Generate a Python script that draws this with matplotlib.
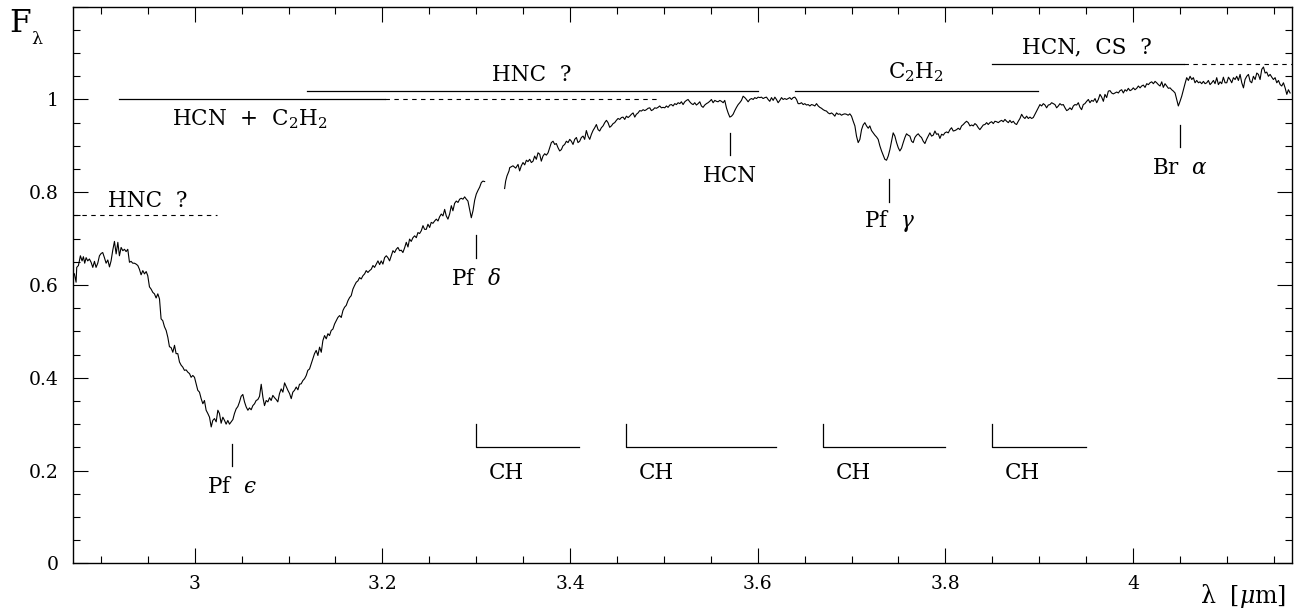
import matplotlib
matplotlib.use("Agg")
import matplotlib.pyplot as plt
from matplotlib.ticker import MultipleLocator, FuncFormatter

plt.rcParams["font.family"] = ["DejaVu Serif"]
plt.rcParams["mathtext.fontset"] = "dejavuserif"

# spectrum, blue part (before the gap near 3.32 um)
wave_blue = [
    2.8700, 2.8718, 2.8736, 2.8743, 2.8761, 2.8782, 2.8800, 2.8814, 2.8828, 2.8843,
    2.8860, 2.8878, 2.8896, 2.8914, 2.8932, 2.8949, 2.8967, 2.8985, 2.9003, 2.9020,
    2.9038, 2.9056, 2.9074, 2.9092, 2.9109, 2.9127, 2.9145, 2.9163, 2.9181, 2.9198,
    2.9216, 2.9234, 2.9252, 2.9269, 2.9287, 2.9305, 2.9322, 2.9340, 2.9358, 2.9376,
    2.9394, 2.9411, 2.9429, 2.9447, 2.9465, 2.9483, 2.9500, 2.9518, 2.9536, 2.9554,
    2.9571, 2.9589, 2.9607, 2.9625, 2.9642, 2.9660, 2.9678, 2.9696, 2.9714, 2.9731,
    2.9749, 2.9767, 2.9785, 2.9802, 2.9820, 2.9838, 2.9856, 2.9873, 2.9891, 2.9909,
    2.9927, 2.9945, 2.9962, 2.9980, 2.9998, 3.0016, 3.0033, 3.0051, 3.0069, 3.0087,
    3.0104, 3.0122, 3.0140, 3.0158, 3.0176, 3.0193, 3.0211, 3.0229, 3.0247, 3.0264,
    3.0282, 3.0300, 3.0318, 3.0335, 3.0353, 3.0371, 3.0389, 3.0407, 3.0424, 3.0442,
    3.0460, 3.0478, 3.0495, 3.0513, 3.0531, 3.0549, 3.0567, 3.0584, 3.0602, 3.0620,
    3.0638, 3.0655, 3.0673, 3.0691, 3.0709, 3.0727, 3.0744, 3.0762, 3.0780, 3.0798,
    3.0815, 3.0833, 3.0851, 3.0869, 3.0886, 3.0904, 3.0922, 3.0940, 3.0958, 3.0975,
    3.0993, 3.1011, 3.1029, 3.1046, 3.1064, 3.1082, 3.1100, 3.1117, 3.1135, 3.1153,
    3.1171, 3.1189, 3.1206, 3.1224, 3.1242, 3.1260, 3.1277, 3.1295, 3.1313, 3.1331,
    3.1349, 3.1366, 3.1384, 3.1402, 3.1420, 3.1437, 3.1455, 3.1473, 3.1491, 3.1509,
    3.1526, 3.1544, 3.1562, 3.1580, 3.1597, 3.1615, 3.1633, 3.1651, 3.1668, 3.1686,
    3.1704, 3.1722, 3.1740, 3.1757, 3.1775, 3.1793, 3.1811, 3.1828, 3.1846, 3.1864,
    3.1882, 3.1900, 3.1917, 3.1935, 3.1953, 3.1971, 3.1988, 3.2006, 3.2024, 3.2042,
    3.2059, 3.2077, 3.2095, 3.2113, 3.2131, 3.2148, 3.2166, 3.2184, 3.2202, 3.2219,
    3.2237, 3.2255, 3.2273, 3.2290, 3.2308, 3.2326, 3.2344, 3.2362, 3.2379, 3.2397,
    3.2415, 3.2433, 3.2450, 3.2468, 3.2486, 3.2504, 3.2521, 3.2539, 3.2557, 3.2575,
    3.2593, 3.2610, 3.2628, 3.2646, 3.2664, 3.2681, 3.2699, 3.2717, 3.2735, 3.2752,
    3.2770, 3.2788, 3.2806, 3.2824, 3.2841, 3.2859, 3.2877, 3.2895, 3.2912, 3.2930,
    3.2948, 3.2966, 3.2984, 3.3001, 3.3019, 3.3037, 3.3055, 3.3072, 3.3090,
]
flux_blue = [
    0.627, 0.624, 0.606, 0.638, 0.642, 0.663, 0.652, 0.661, 0.647, 0.659,
    0.652, 0.656, 0.649, 0.638, 0.651, 0.638, 0.647, 0.663, 0.668, 0.670,
    0.659, 0.647, 0.654, 0.639, 0.652, 0.675, 0.694, 0.667, 0.692, 0.663,
    0.681, 0.674, 0.677, 0.672, 0.677, 0.649, 0.651, 0.647, 0.647, 0.645,
    0.642, 0.634, 0.622, 0.631, 0.624, 0.629, 0.620, 0.596, 0.591, 0.584,
    0.581, 0.572, 0.581, 0.570, 0.527, 0.523, 0.510, 0.502, 0.487, 0.467,
    0.465, 0.455, 0.470, 0.452, 0.452, 0.434, 0.427, 0.423, 0.416, 0.417,
    0.412, 0.409, 0.401, 0.405, 0.401, 0.387, 0.373, 0.369, 0.355, 0.344,
    0.351, 0.330, 0.323, 0.315, 0.294, 0.308, 0.312, 0.305, 0.330, 0.323,
    0.302, 0.315, 0.308, 0.300, 0.308, 0.300, 0.305, 0.310, 0.323, 0.333,
    0.338, 0.348, 0.360, 0.364, 0.348, 0.337, 0.330, 0.335, 0.331, 0.340,
    0.344, 0.351, 0.353, 0.360, 0.386, 0.358, 0.340, 0.351, 0.348, 0.357,
    0.351, 0.362, 0.357, 0.353, 0.348, 0.366, 0.376, 0.369, 0.389, 0.381,
    0.373, 0.366, 0.355, 0.369, 0.373, 0.380, 0.374, 0.386, 0.387, 0.394,
    0.398, 0.405, 0.416, 0.419, 0.430, 0.441, 0.452, 0.459, 0.448, 0.466,
    0.455, 0.480, 0.491, 0.484, 0.495, 0.491, 0.502, 0.505, 0.516, 0.523,
    0.530, 0.534, 0.530, 0.545, 0.552, 0.556, 0.566, 0.573, 0.577, 0.591,
    0.599, 0.606, 0.609, 0.616, 0.613, 0.620, 0.624, 0.631, 0.627, 0.631,
    0.634, 0.642, 0.638, 0.645, 0.652, 0.644, 0.652, 0.645, 0.659, 0.663,
    0.659, 0.652, 0.663, 0.674, 0.670, 0.677, 0.681, 0.674, 0.675, 0.670,
    0.680, 0.692, 0.682, 0.699, 0.694, 0.702, 0.706, 0.702, 0.713, 0.711,
    0.717, 0.728, 0.720, 0.720, 0.731, 0.724, 0.735, 0.733, 0.738, 0.742,
    0.738, 0.747, 0.753, 0.749, 0.763, 0.749, 0.742, 0.753, 0.771, 0.760,
    0.776, 0.781, 0.778, 0.785, 0.787, 0.785, 0.790, 0.785, 0.781, 0.763,
    0.745, 0.760, 0.783, 0.796, 0.804, 0.811, 0.821, 0.824, 0.823,
]

# spectrum, red part (after the gap)
wave_red = [
    3.3303, 3.3314, 3.3328, 3.3350, 3.3357, 3.3392, 3.3421, 3.3446, 3.3463, 3.3481,
    3.3499, 3.3517, 3.3535, 3.3552, 3.3570, 3.3588, 3.3606, 3.3623, 3.3641, 3.3659,
    3.3677, 3.3694, 3.3712, 3.3730, 3.3748, 3.3766, 3.3783, 3.3801, 3.3819, 3.3837,
    3.3854, 3.3872, 3.3890, 3.3908, 3.3925, 3.3943, 3.3961, 3.3979, 3.3997, 3.4014,
    3.4032, 3.4050, 3.4068, 3.4085, 3.4103, 3.4121, 3.4139, 3.4156, 3.4174, 3.4192,
    3.4210, 3.4228, 3.4245, 3.4263, 3.4281, 3.4299, 3.4316, 3.4334, 3.4352, 3.4370,
    3.4388, 3.4405, 3.4423, 3.4441, 3.4459, 3.4476, 3.4494, 3.4512, 3.4530, 3.4548,
    3.4565, 3.4583, 3.4601, 3.4619, 3.4636, 3.4654, 3.4672, 3.4690, 3.4707, 3.4725,
    3.4743, 3.4761, 3.4779, 3.4796, 3.4814, 3.4832, 3.4850, 3.4867, 3.4885, 3.4903,
    3.4921, 3.4938, 3.4956, 3.4974, 3.4992, 3.5010, 3.5027, 3.5045, 3.5063, 3.5081,
    3.5098, 3.5116, 3.5134, 3.5152, 3.5170, 3.5187, 3.5205, 3.5223, 3.5241, 3.5258,
    3.5276, 3.5294, 3.5312, 3.5329, 3.5347, 3.5365, 3.5383, 3.5400, 3.5418, 3.5436,
    3.5454, 3.5471, 3.5489, 3.5507, 3.5525, 3.5543, 3.5561, 3.5578, 3.5596, 3.5614,
    3.5632, 3.5649, 3.5667, 3.5685, 3.5703, 3.5721, 3.5738, 3.5756, 3.5774, 3.5792,
    3.5809, 3.5827, 3.5845, 3.5863, 3.5880, 3.5898, 3.5916, 3.5934, 3.5952, 3.5969,
    3.5987, 3.6005, 3.6023, 3.6040, 3.6058, 3.6076, 3.6094, 3.6111, 3.6129, 3.6147,
    3.6165, 3.6183, 3.6200, 3.6218, 3.6236, 3.6254, 3.6271, 3.6289, 3.6307, 3.6325,
    3.6342, 3.6360, 3.6378, 3.6396, 3.6414, 3.6431, 3.6449, 3.6467, 3.6485, 3.6502,
    3.6520, 3.6538, 3.6556, 3.6573, 3.6591, 3.6609, 3.6627, 3.6645, 3.6662, 3.6680,
    3.6698, 3.6716, 3.6733, 3.6751, 3.6769, 3.6787, 3.6805, 3.6822, 3.6840, 3.6858,
    3.6876, 3.6893, 3.6911, 3.6929, 3.6947, 3.6964, 3.6982, 3.7000, 3.7018, 3.7036,
    3.7053, 3.7071, 3.7089, 3.7107, 3.7124, 3.7142, 3.7160, 3.7178, 3.7195, 3.7213,
    3.7231, 3.7249, 3.7267, 3.7284, 3.7302, 3.7320, 3.7338, 3.7355, 3.7373, 3.7391,
    3.7409, 3.7426, 3.7444, 3.7462, 3.7480, 3.7498, 3.7515, 3.7533, 3.7551, 3.7569,
    3.7586, 3.7604, 3.7622, 3.7640, 3.7657, 3.7675, 3.7693, 3.7711, 3.7729, 3.7746,
    3.7764, 3.7782, 3.7800, 3.7817, 3.7835, 3.7853, 3.7871, 3.7889, 3.7906, 3.7924,
    3.7942, 3.7960, 3.7978, 3.7995, 3.8013, 3.8031, 3.8049, 3.8066, 3.8084, 3.8102,
    3.8120, 3.8137, 3.8155, 3.8173, 3.8191, 3.8209, 3.8226, 3.8244, 3.8262, 3.8280,
    3.8297, 3.8315, 3.8333, 3.8351, 3.8368, 3.8386, 3.8404, 3.8422, 3.8440, 3.8457,
    3.8475, 3.8493, 3.8511, 3.8528, 3.8546, 3.8564, 3.8582, 3.8599, 3.8617, 3.8635,
    3.8653, 3.8671, 3.8688, 3.8706, 3.8724, 3.8742, 3.8759, 3.8777, 3.8795, 3.8813,
    3.8831, 3.8848, 3.8866, 3.8884, 3.8902, 3.8919, 3.8937, 3.8955, 3.8973, 3.8990,
    3.9008, 3.9026, 3.9044, 3.9062, 3.9079, 3.9097, 3.9115, 3.9133, 3.9150, 3.9168,
    3.9186, 3.9204, 3.9221, 3.9239, 3.9257, 3.9275, 3.9293, 3.9310, 3.9328, 3.9346,
    3.9364, 3.9381, 3.9399, 3.9417, 3.9435, 3.9452, 3.9470, 3.9487, 3.9506, 3.9524,
    3.9541, 3.9559, 3.9577, 3.9595, 3.9613, 3.9630, 3.9648, 3.9666, 3.9684, 3.9701,
    3.9719, 3.9737, 3.9755, 3.9772, 3.9790, 3.9808, 3.9826, 3.9844, 3.9861, 3.9879,
    3.9897, 3.9915, 3.9932, 3.9950, 3.9968, 3.9986, 4.0003, 4.0021, 4.0039, 4.0057,
    4.0075, 4.0092, 4.0110, 4.0128, 4.0146, 4.0164, 4.0181, 4.0199, 4.0217, 4.0235,
    4.0252, 4.0270, 4.0288, 4.0306, 4.0323, 4.0341, 4.0359, 4.0377, 4.0395, 4.0412,
    4.0430, 4.0448, 4.0466, 4.0483, 4.0501, 4.0519, 4.0537, 4.0554, 4.0572, 4.0590,
    4.0608, 4.0626, 4.0643, 4.0661, 4.0679, 4.0697, 4.0714, 4.0732, 4.0750, 4.0768,
    4.0786, 4.0803, 4.0821, 4.0839, 4.0857, 4.0874, 4.0892, 4.0910, 4.0928, 4.0945,
    4.0963, 4.0981, 4.0999, 4.1017, 4.1034, 4.1052, 4.1070, 4.1088, 4.1105, 4.1123,
    4.1141, 4.1159, 4.1177, 4.1194, 4.1212, 4.1230, 4.1248, 4.1265, 4.1283, 4.1301,
    4.1319, 4.1336, 4.1354, 4.1372, 4.1390, 4.1408, 4.1425, 4.1443, 4.1461, 4.1479,
    4.1496, 4.1514, 4.1532, 4.1550, 4.1568, 4.1585, 4.1603, 4.1621, 4.1639, 4.1656,
    4.1674,
]
flux_red = [
    0.808, 0.824, 0.835, 0.846, 0.853, 0.857, 0.852, 0.860, 0.846, 0.857,
    0.864, 0.859, 0.869, 0.866, 0.871, 0.864, 0.867, 0.878, 0.871, 0.885,
    0.882, 0.867, 0.878, 0.883, 0.880, 0.885, 0.896, 0.907, 0.910, 0.903,
    0.905, 0.896, 0.889, 0.892, 0.900, 0.903, 0.910, 0.907, 0.914, 0.910,
    0.903, 0.914, 0.918, 0.907, 0.910, 0.918, 0.921, 0.914, 0.933, 0.921,
    0.914, 0.925, 0.933, 0.939, 0.946, 0.935, 0.932, 0.939, 0.943, 0.950,
    0.955, 0.950, 0.940, 0.943, 0.948, 0.950, 0.955, 0.959, 0.957, 0.961,
    0.962, 0.957, 0.964, 0.961, 0.964, 0.968, 0.971, 0.962, 0.968, 0.971,
    0.976, 0.975, 0.978, 0.976, 0.978, 0.981, 0.982, 0.976, 0.978, 0.982,
    0.981, 0.983, 0.986, 0.982, 0.983, 0.982, 0.986, 0.983, 0.988, 0.989,
    0.986, 0.991, 0.989, 0.993, 0.991, 0.995, 0.989, 0.995, 0.998, 1.000,
    0.995, 0.991, 0.989, 0.993, 0.988, 0.991, 0.995, 0.986, 0.983, 0.988,
    0.991, 0.993, 0.996, 1.000, 0.993, 0.998, 0.996, 0.995, 0.998, 0.996,
    0.993, 0.998, 0.982, 0.971, 0.962, 0.964, 0.968, 0.976, 0.983, 0.989,
    0.993, 0.998, 1.007, 1.004, 1.000, 0.995, 1.000, 1.002, 1.000, 1.004,
    1.002, 1.005, 1.004, 1.005, 1.002, 1.004, 1.005, 1.000, 0.996, 1.004,
    0.998, 1.005, 1.000, 0.993, 0.998, 1.004, 1.000, 1.002, 1.000, 1.002,
    1.004, 1.000, 1.004, 1.005, 1.000, 0.991, 0.991, 0.993, 0.989, 0.991,
    0.988, 0.989, 0.986, 0.989, 0.988, 0.986, 0.991, 0.986, 0.983, 0.981,
    0.978, 0.976, 0.975, 0.971, 0.969, 0.971, 0.968, 0.964, 0.971, 0.968,
    0.969, 0.966, 0.968, 0.969, 0.968, 0.966, 0.969, 0.964, 0.953, 0.943,
    0.921, 0.907, 0.914, 0.935, 0.945, 0.950, 0.943, 0.938, 0.943, 0.933,
    0.928, 0.923, 0.919, 0.914, 0.900, 0.889, 0.880, 0.871, 0.869, 0.878,
    0.892, 0.910, 0.928, 0.921, 0.907, 0.896, 0.889, 0.895, 0.907, 0.918,
    0.926, 0.923, 0.921, 0.910, 0.907, 0.918, 0.923, 0.926, 0.921, 0.918,
    0.910, 0.905, 0.914, 0.921, 0.928, 0.921, 0.923, 0.932, 0.925, 0.926,
    0.916, 0.925, 0.923, 0.928, 0.930, 0.928, 0.935, 0.939, 0.932, 0.933,
    0.935, 0.938, 0.935, 0.943, 0.946, 0.950, 0.953, 0.950, 0.943, 0.945,
    0.943, 0.948, 0.945, 0.939, 0.935, 0.940, 0.945, 0.946, 0.950, 0.946,
    0.950, 0.952, 0.948, 0.953, 0.952, 0.950, 0.953, 0.955, 0.952, 0.957,
    0.953, 0.950, 0.955, 0.950, 0.953, 0.948, 0.946, 0.953, 0.959, 0.968,
    0.962, 0.959, 0.964, 0.959, 0.962, 0.959, 0.961, 0.968, 0.975, 0.982,
    0.989, 0.986, 0.991, 0.988, 0.982, 0.988, 0.989, 0.993, 0.991, 0.989,
    0.982, 0.986, 0.991, 0.988, 0.989, 0.982, 0.976, 0.978, 0.982, 0.978,
    0.986, 0.989, 0.988, 0.993, 0.983, 0.978, 0.989, 0.991, 0.996, 1.000,
    0.993, 0.998, 0.996, 1.002, 0.993, 1.000, 1.011, 1.005, 0.996, 1.011,
    1.004, 1.018, 1.019, 1.014, 1.012, 1.014, 1.016, 1.014, 1.019, 1.021,
    1.014, 1.021, 1.018, 1.024, 1.019, 1.021, 1.025, 1.021, 1.024, 1.029,
    1.025, 1.029, 1.031, 1.026, 1.034, 1.032, 1.036, 1.038, 1.034, 1.039,
    1.036, 1.032, 1.029, 1.038, 1.026, 1.034, 1.029, 1.024, 1.025, 1.021,
    1.018, 1.014, 1.000, 0.986, 0.996, 1.007, 1.021, 1.034, 1.047, 1.041,
    1.050, 1.043, 1.047, 1.036, 1.041, 1.036, 1.038, 1.034, 1.039, 1.034,
    1.036, 1.041, 1.032, 1.036, 1.041, 1.034, 1.047, 1.032, 1.038, 1.034,
    1.048, 1.036, 1.036, 1.048, 1.043, 1.036, 1.047, 1.043, 1.050, 1.041,
    1.054, 1.036, 1.025, 1.043, 1.050, 1.054, 1.039, 1.036, 1.050, 1.043,
    1.057, 1.054, 1.043, 1.065, 1.070, 1.057, 1.059, 1.050, 1.054, 1.048,
    1.043, 1.047, 1.036, 1.041, 1.032, 1.029, 1.036, 1.025, 1.011, 1.021,
    1.014,
]

# molecular band identifications above the continuum
band_labels = ["HNC  ?", r"HCN  +  C$_2$H$_2$", "HNC  ?", r"C$_2$H$_2$", "HCN,  CS  ?"]
band_level = [0.75, 1.0, 1.018, 1.018, 1.077]
band_solid = [None, (2.919, 3.203), (3.120, 3.600), (3.640, 3.899), (3.850, 4.054)]
band_dashed = [(2.870, 3.024), (3.203, 3.496), None, None, (4.054, 4.169)]
band_text_x = [2.950, 3.059, 3.359, 3.769, 3.951]
band_text_y = [0.769, 0.945, 1.039, 1.046, 1.100]

# atomic / molecular line markers below the spectrum
line_labels = ["Pf  $\u03f5$", r"Pf  $\delta$", "HCN", r"Pf  $\gamma$", r"Br  $\alpha$"]
line_wave = [3.040, 3.300, 3.570, 3.740, 4.050]
line_bottom = [0.210, 0.659, 0.880, 0.779, 0.898]
line_top = [0.258, 0.707, 0.927, 0.828, 0.946]
line_text_y = [0.151, 0.599, 0.821, 0.725, 0.839]

# CH band brackets
ch_start = [3.300, 3.460, 3.670, 3.850]
ch_end = [3.410, 3.620, 3.800, 3.950]
ch_top = 0.30
ch_level = 0.25
ch_text_y = 0.181

W, H = 1301, 610
fig = plt.figure(figsize=(W / 100, H / 100), dpi=100)
ax = fig.add_axes([72.7 / W, 46.7 / H, (1291.6 - 72.7) / W, (563.3 - 6.7) / H])

lw = 0.9
ax.plot(wave_blue, flux_blue, color="black", lw=0.8)
ax.plot(wave_red, flux_red, color="black", lw=0.8)

txt = dict(fontsize=15.5, color="black")
for label, lev, solid, dashed, tx, ty in zip(band_labels, band_level, band_solid, band_dashed,
                                             band_text_x, band_text_y):
    if solid:
        ax.plot(solid, [lev, lev], color="black", lw=lw)
    if dashed:
        ax.plot(dashed, [lev, lev], color="black", lw=0.8, linestyle=(0, (4, 4)))
    ax.text(tx, ty, label, ha="center", va="baseline", **txt)

for label, w, y0, y1, ty in zip(line_labels, line_wave, line_bottom, line_top, line_text_y):
    ax.plot([w, w], [y0, y1], color="black", lw=lw)
    ax.text(w, ty, label, ha="center", va="baseline", **txt)

for x0, x1 in zip(ch_start, ch_end):
    ax.plot([x0, x0, x1], [ch_top, ch_level, ch_level], color="black", lw=lw)
    ax.text(x0 + 0.013, ch_text_y, "CH", ha="left", va="baseline", **txt)

ax.set_xlim(2.87, 4.169)
ax.set_ylim(0, 1.2)
ax.xaxis.set_major_locator(MultipleLocator(0.2))
ax.xaxis.set_minor_locator(MultipleLocator(0.05))
ax.yaxis.set_major_locator(MultipleLocator(0.2))
ax.yaxis.set_minor_locator(MultipleLocator(0.05))
ax.xaxis.set_major_formatter(FuncFormatter(lambda v, p: f"{v:g}"))
ax.yaxis.set_major_formatter(FuncFormatter(lambda v, p: f"{v:g}" if v < 1.1 else ""))
ax.tick_params(which="both", direction="in", top=True, right=True, width=0.8, labelsize=13.5)
ax.tick_params(which="major", length=10.5)
ax.tick_params(which="minor", length=5.3)
ax.tick_params(axis="x", pad=8.5)
ax.tick_params(axis="y", pad=10)
for s in ax.spines.values():
    s.set_linewidth(1.0)

fig.text(9 / W, 1 - 32.5 / H, "F", fontsize=22.5, va="baseline", ha="left")
fig.text(31 / W, 1 - 43.5 / H, "λ", fontsize=12.5, va="baseline", ha="left")
fig.text(1286 / W, 1 - 603 / H, r"λ  [$\mu$m]", fontsize=17, va="baseline", ha="right")

fig.savefig("out.png", dpi=100)
